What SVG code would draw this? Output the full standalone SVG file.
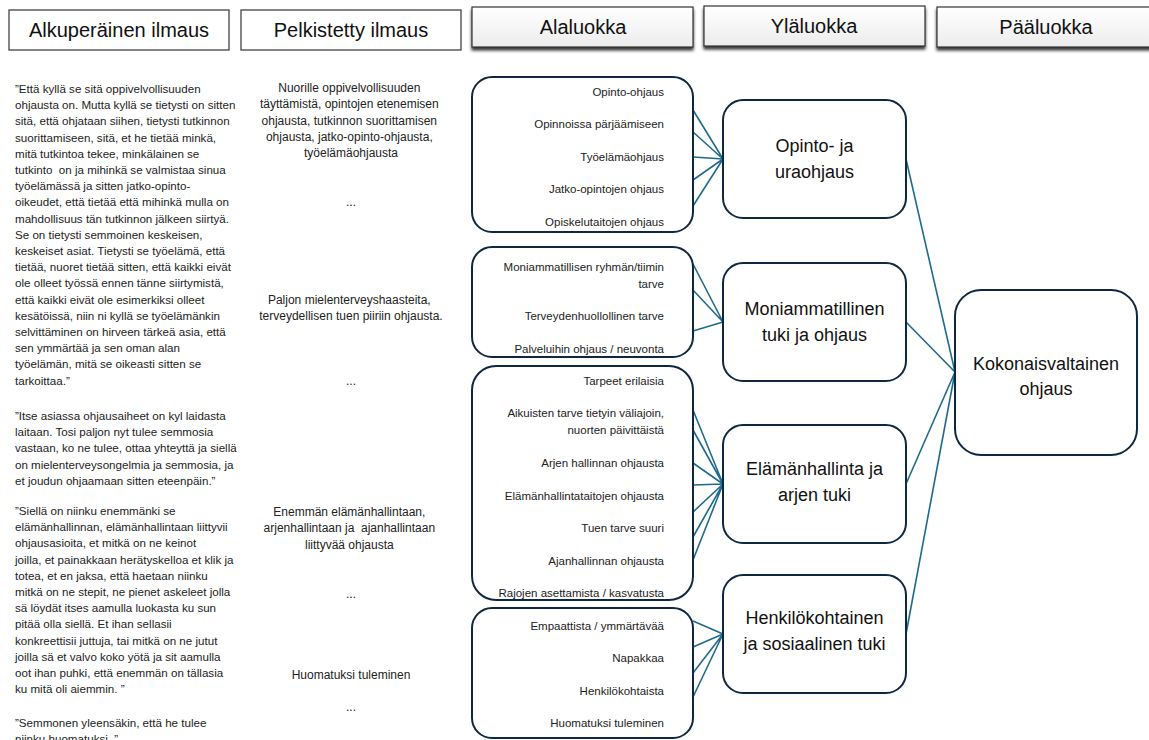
<svg xmlns="http://www.w3.org/2000/svg" width="1149" height="740" viewBox="0 0 1149 740">
<defs>
<linearGradient id="hg" x1="0" y1="0" x2="0" y2="1"><stop offset="0" stop-color="#ffffff"/><stop offset="1" stop-color="#ececec"/></linearGradient>
<filter id="sh" x="-5%" y="-20%" width="110%" height="160%"><feDropShadow dx="0" dy="3" stdDeviation="1.5" flood-color="#222" flood-opacity="0.9"/></filter>
</defs>
<style>
.hb{fill:#fff;stroke:#444;stroke-width:1.3}
.hs{fill:url(#hg);stroke:#333;stroke-width:1.2;filter:url(#sh)}
.ht{font-family:"Liberation Sans",Arial,sans-serif;font-size:20px;fill:#111;text-anchor:middle}
.lt{font-family:"Liberation Sans",Arial,sans-serif;font-size:11.6px;fill:#222}
.mt{font-family:"Liberation Sans",Arial,sans-serif;font-size:12px;fill:#222;text-anchor:middle}
.at{font-family:"Liberation Sans",Arial,sans-serif;font-size:11.5px;fill:#222;text-anchor:end}
.bx{fill:#fff;stroke:#0e2841;stroke-width:2}
.yt{font-family:"Liberation Sans",Arial,sans-serif;font-size:18px;fill:#111;text-anchor:middle}
.cn{stroke:#1f6a8c;stroke-width:1.6;fill:none}
</style>
<rect width="1149" height="740" fill="#fff"/>
<g id="headers">
<g id="h1"><rect class="hb" x="9" y="10" width="220" height="40"/><text class="ht" x="119" y="37">Alkuperäinen ilmaus</text></g>
<g id="h2"><rect class="hb" x="241" y="10" width="220" height="40"/><text class="ht" x="351" y="37">Pelkistetty ilmaus</text></g>
<g id="h3"><rect class="hs" x="472" y="7" width="221" height="40"/><text class="ht" x="583" y="34">Alaluokka</text></g>
<g id="h4"><rect class="hs" x="704" y="6" width="221" height="40"/><text class="ht" x="814" y="33">Yläluokka</text></g>
<g id="h5"><rect class="hs" x="937" y="7" width="220" height="40"/><text class="ht" x="1046" y="34">Pääluokka</text></g>
</g>
<g id="original-text">
<text class="lt" style="white-space:pre">
<tspan x="15" y="93">”Että kyllä se sitä oppivelvollisuuden</tspan>
<tspan x="15" y="109.2">ohjausta on. Mutta kyllä se tietysti on sitten</tspan>
<tspan x="15" y="125.4">sitä, että ohjataan siihen, tietysti tutkinnon</tspan>
<tspan x="15" y="141.6">suorittamiseen, sitä, et he tietää minkä,</tspan>
<tspan x="15" y="157.8">mitä tutkintoa tekee, minkälainen se</tspan>
<tspan x="15" y="174">tutkinto  on ja mihinkä se valmistaa sinua</tspan>
<tspan x="15" y="190.2">työelämässä ja sitten jatko-opinto-</tspan>
<tspan x="15" y="206.4">oikeudet, että tietää että mihinkä mulla on</tspan>
<tspan x="15" y="222.6">mahdollisuus tän tutkinnon jälkeen siirtyä.</tspan>
<tspan x="15" y="238.8">Se on tietysti semmoinen keskeisen,</tspan>
<tspan x="15" y="255">keskeiset asiat. Tietysti se työelämä, että</tspan>
<tspan x="15" y="271.2">tietää, nuoret tietää sitten, että kaikki eivät</tspan>
<tspan x="15" y="287.4">ole olleet työssä ennen tänne siirtymistä,</tspan>
<tspan x="15" y="303.6">että kaikki eivät ole esimerkiksi olleet</tspan>
<tspan x="15" y="319.8">kesätöissä, niin ni kyllä se työelämänkin</tspan>
<tspan x="15" y="336">selvittäminen on hirveen tärkeä asia, että</tspan>
<tspan x="15" y="352.2">sen ymmärtää ja sen oman alan</tspan>
<tspan x="15" y="368.4">työelämän, mitä se oikeasti sitten se</tspan>
<tspan x="15" y="384.6">tarkoittaa.”</tspan>
</text>
<text class="lt">
<tspan x="15" y="420">”Itse asiassa ohjausaiheet on kyl laidasta</tspan>
<tspan x="15" y="436.2">laitaan. Tosi paljon nyt tulee semmosia</tspan>
<tspan x="15" y="452.4">vastaan, ko ne tulee, ottaa yhteyttä ja siellä</tspan>
<tspan x="15" y="468.6">on mielenterveysongelmia ja semmosia, ja</tspan>
<tspan x="15" y="484.8">et joudun ohjaamaan sitten eteenpäin.”</tspan>
</text>
<text class="lt" style="white-space:pre">
<tspan x="15" y="515">”Siellä on niinku enemmänki se</tspan>
<tspan x="15" y="531.2">elämänhallinnan, elämänhallintaan liittyvii</tspan>
<tspan x="15" y="547.4">ohjausasioita, et mitkä on ne keinot</tspan>
<tspan x="15" y="563.6">joilla, et painakkaan herätyskelloa et klik ja</tspan>
<tspan x="15" y="579.8">totea, et en jaksa, että haetaan niinku</tspan>
<tspan x="15" y="596">mitkä on ne stepit, ne pienet askeleet jolla</tspan>
<tspan x="15" y="612.2">sä löydät itses aamulla luokasta ku sun</tspan>
<tspan x="15" y="628.4">pitää olla siellä. Et ihan sellasii</tspan>
<tspan x="15" y="644.6">konkreettisii juttuja, tai mitkä on ne jutut</tspan>
<tspan x="15" y="660.8">joilla sä et valvo koko yötä ja sit aamulla</tspan>
<tspan x="15" y="677">oot ihan puhki, että enemmän on tällasia</tspan>
<tspan x="15" y="693.2">ku mitä oli aiemmin. ”</tspan>
</text>
<text class="lt">
<tspan x="15" y="727">”Semmonen yleensäkin, että he tulee</tspan>
<tspan x="15" y="743.2">niinku huomatuksi..”</tspan>
</text>
</g>
<g id="simplified-text">
<text class="mt">
<tspan x="351" y="92">Nuorille oppivelvollisuuden</tspan>
<tspan x="351" y="108.3">täyttämistä, opintojen etenemisen</tspan>
<tspan x="351" y="124.6">ohjausta, tutkinnon suorittamisen</tspan>
<tspan x="351" y="140.9">ohjausta, jatko-opinto-ohjausta,</tspan>
<tspan x="351" y="157.2">työelämäohjausta</tspan>
</text>
<text class="mt" x="351" y="206">...</text>
<text class="mt">
<tspan x="351" y="304">Paljon mielenterveyshaasteita,</tspan>
<tspan x="351" y="320.3">terveydellisen tuen piiriin ohjausta.</tspan>
</text>
<text class="mt" x="351" y="385">...</text>
<text class="mt" style="white-space:pre">
<tspan x="351" y="516">Enemmän elämänhallintaan,</tspan>
<tspan x="351" y="532.3">arjenhallintaan ja  ajanhallintaan</tspan>
<tspan x="351" y="548.6">liittyvää ohjausta</tspan>
</text>
<text class="mt" x="351" y="598">...</text>
<text class="mt" x="351" y="679">Huomatuksi tuleminen</text>
<text class="mt" x="351" y="711">...</text>
</g>
<g id="connectors">
<path class="cn" d="M693 110L723 159M693 132L723 159M693 157L723 159M693 180L723 159M693 206L723 159"/>
<path class="cn" d="M693 264L723 322M693 290L723 322M693 331L723 322"/>
<path class="cn" d="M693 410L723 484M693 430L723 484M693 463L723 484M693 485L723 484M693 512L723 484M693 537L723 484M693 560L723 484"/>
<path class="cn" d="M693 621L723 634M693 647L723 634M693 673L723 634M693 697L723 634"/>
<path class="cn" d="M906 159L955 372M906 322L955 372M906 484L955 372M906 634L955 372"/>
</g>
<g id="sub1"><rect class="bx" x="472" y="77" width="221" height="155" rx="20"/>
<text class="at"><tspan x="664" y="96">Opinto-ohjaus</tspan><tspan x="664" y="128">Opinnoissa pärjäämiseen</tspan><tspan x="664" y="161">Työelämäohjaus</tspan><tspan x="664" y="193">Jatko-opintojen ohjaus</tspan><tspan x="664" y="226">Opiskelutaitojen ohjaus</tspan></text></g>
<g id="sub2"><rect class="bx" x="472" y="247" width="221" height="110" rx="20"/>
<text class="at"><tspan x="664" y="271">Moniammatillisen ryhmän/tiimin</tspan><tspan x="664" y="288">tarve</tspan><tspan x="664" y="320">Terveydenhuollollinen tarve</tspan><tspan x="664" y="353">Palveluihin ohjaus / neuvonta</tspan></text></g>
<g id="sub3"><rect class="bx" x="472" y="366" width="221" height="234" rx="24"/>
<text class="at"><tspan x="664" y="385">Tarpeet erilaisia</tspan><tspan x="664" y="417">Aikuisten tarve tietyin väliajoin,</tspan><tspan x="664" y="434">nuorten päivittäistä</tspan><tspan x="664" y="467">Arjen hallinnan ohjausta</tspan><tspan x="664" y="500">Elämänhallintataitojen ohjausta</tspan><tspan x="664" y="532">Tuen tarve suuri</tspan><tspan x="664" y="565">Ajanhallinnan ohjausta</tspan><tspan x="664" y="597">Rajojen asettamista / kasvatusta</tspan></text></g>
<g id="sub4"><rect class="bx" x="472" y="608" width="221" height="130" rx="20"/>
<text class="at"><tspan x="664" y="630">Empaattista / ymmärtävää</tspan><tspan x="664" y="662">Napakkaa</tspan><tspan x="664" y="695">Henkilökohtaista</tspan><tspan x="664" y="727">Huomatuksi tuleminen</tspan></text></g>
<g id="up1"><rect class="bx" x="723" y="100" width="183" height="118" rx="20"/>
<text class="yt"><tspan x="814.5" y="152">Opinto- ja</tspan><tspan x="814.5" y="178">uraohjaus</tspan></text></g>
<g id="up2"><rect class="bx" x="723" y="263" width="183" height="118" rx="20"/>
<text class="yt"><tspan x="814.5" y="315">Moniammatillinen</tspan><tspan x="814.5" y="341">tuki ja ohjaus</tspan></text></g>
<g id="up3"><rect class="bx" x="723" y="425" width="183" height="118" rx="20"/>
<text class="yt"><tspan x="814.5" y="475">Elämänhallinta ja</tspan><tspan x="814.5" y="501">arjen tuki</tspan></text></g>
<g id="up4"><rect class="bx" x="723" y="575" width="183" height="118" rx="20"/>
<text class="yt"><tspan x="814.5" y="624">Henkilökohtainen</tspan><tspan x="814.5" y="650">ja sosiaalinen tuki</tspan></text></g>
<g id="main"><rect class="bx" x="955" y="290" width="182" height="165" rx="26"/>
<text class="yt"><tspan x="1046" y="370">Kokonaisvaltainen</tspan><tspan x="1046" y="395">ohjaus</tspan></text></g>
</svg>
